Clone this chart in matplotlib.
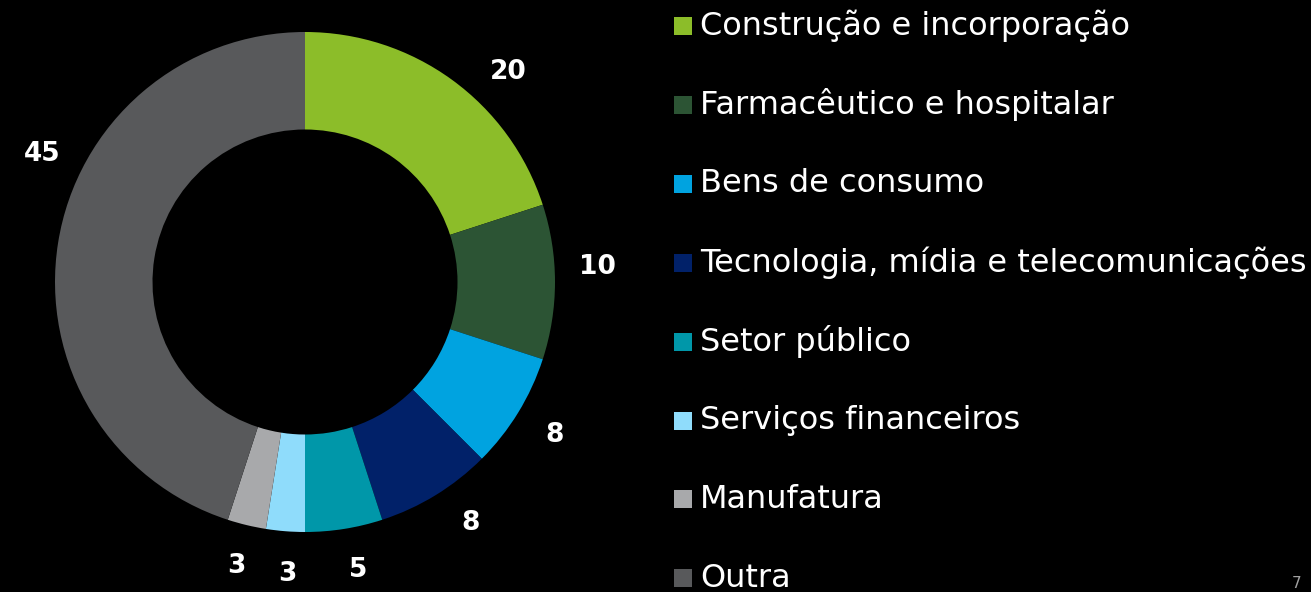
import numpy as np
import matplotlib.pyplot as plt
from matplotlib.patches import Rectangle

# data
categories = [
    "Construção e incorporação",
    "Farmacêutico e hospitalar",
    "Bens de consumo",
    "Tecnologia, mídia e telecomunicações",
    "Setor público",
    "Serviços financeiros",
    "Manufatura",
    "Outra",
]
values = [20, 10, 7.5, 7.5, 5, 2.5, 2.5, 45]
colors = ["#8CBD29", "#2C5434", "#00A3E0", "#012169",
          "#0097A9", "#8FDCFB", "#A8A9AB", "#58595B"]
page_no = "7"

# label nudges (degrees) so labels sit like in the slide
label_shift = [-8, 3, 0, 3, 1.5, 1, 0, -17]

W, H = 1311, 592
fig = plt.figure(figsize=(W / 100, H / 100), dpi=100, facecolor="black")
ax = fig.add_axes([0, 0, 1, 1])

cx, cy, R = 305, H - 282, 250
wedges, _ = ax.pie(values, colors=colors, startangle=90, counterclock=False,
                   center=(cx, cy), radius=R, frame=True,
                   wedgeprops=dict(width=R * 0.39, linewidth=0))
ax.set_xlim(0, W)
ax.set_ylim(0, H)
ax.set_aspect("equal")
ax.axis("off")

# value labels (rounded half up, like excel)
for w, v, d in zip(wedges, values, label_shift):
    ang = np.deg2rad((w.theta1 + w.theta2) / 2 + d)
    r = R * 1.17
    ax.text(cx + r * np.cos(ang), cy + r * np.sin(ang), str(int(v + 0.5)),
            color="white", fontsize=19, fontweight="bold",
            ha="center", va="center")

# legend
y0, step = 26, 78.9
for i, (c, lab) in enumerate(zip(colors, categories)):
    y = H - (y0 + i * step)
    ax.add_patch(Rectangle((674, y - 9), 18, 18, color=c, lw=0))
    ax.text(700, y, lab, color="white", fontsize=23, ha="left", va="center")

fig.text(1297 / W, 1 - 584 / H, page_no, color="#A0A0A0", fontsize=11,
         ha="center", va="center")

fig.savefig("out.png", dpi=100, facecolor="black")
